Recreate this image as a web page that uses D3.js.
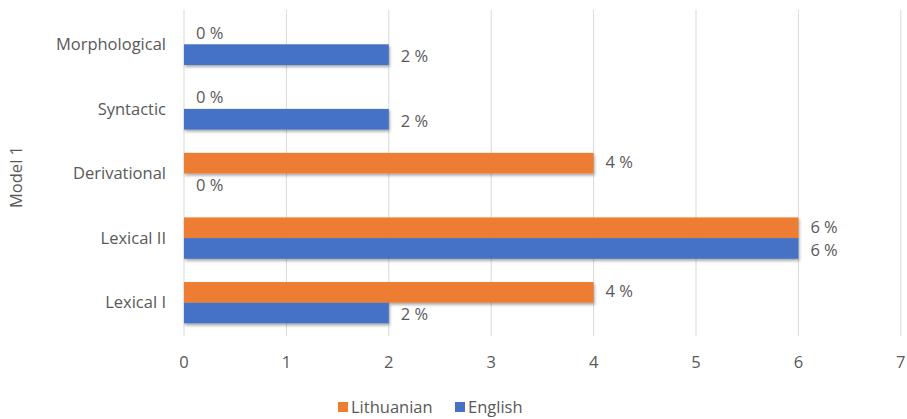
<!DOCTYPE html>
<html>
<head>
<meta charset="utf-8">
<script src="https://cdn.jsdelivr.net/npm/d3@7"></script>
<style>
  body { margin: 0; background: #fff; }
  text { font-family: "Open Sans", "Noto Sans", sans-serif; fill: #595959; }
</style>
</head>
<body>
<div id="chart"></div>
<script>
// data
const categories = ["Morphological", "Syntactic", "Derivational", "Lexical II", "Lexical I"];
const seriesNames = ["Lithuanian", "English"];
const lithuanian = [0, 0, 4, 6, 4];
const english = [2, 2, 0, 6, 2];
const xTicks = [0, 1, 2, 3, 4, 5, 6, 7];
const colors = ["#ED7D31", "#4472C4"];

const width = 907;
const height = 419;
const margin = { top: 12, right: 6, bottom: 84, left: 184 };
const fontSize = "16.5px";

const svg = d3.select("#chart")
  .append("svg")
  .attr("width", width)
  .attr("height", height);

// soft shadow under the bars
const defs = svg.append("defs");
const shadow = defs.append("filter")
  .attr("id", "shadow")
  .attr("x", "-5%").attr("y", "-30%")
  .attr("width", "110%").attr("height", "170%");
shadow.append("feDropShadow")
  .attr("dx", 1).attr("dy", 2)
  .attr("stdDeviation", 1.5)
  .attr("flood-color", "#000")
  .attr("flood-opacity", 0.35);

const x = d3.scaleLinear()
  .domain([0, 7])
  .range([margin.left, margin.left + 7 * 102.4]);

const y = d3.scaleBand()
  .domain(categories)
  .range([margin.top, height - margin.bottom])
  .paddingInner(0.36)
  .paddingOuter(0.18);

const ySub = d3.scaleBand()
  .domain(seriesNames)
  .range([0, y.bandwidth()]);

// vertical grid lines
svg.append("g")
  .selectAll("line")
  .data(xTicks)
  .join("line")
  .attr("x1", d => x(d))
  .attr("x2", d => x(d))
  .attr("y1", 10)
  .attr("y2", 336)
  .attr("stroke", "#d9d9d9")
  .attr("stroke-width", 1);

// tick labels
svg.append("g")
  .selectAll("text")
  .data(xTicks)
  .join("text")
  .attr("x", d => x(d))
  .attr("y", 368)
  .attr("text-anchor", "middle")
  .style("font-size", fontSize)
  .text(d => d);

// category labels
svg.append("g")
  .selectAll("text")
  .data(categories)
  .join("text")
  .attr("x", margin.left - 18)
  .attr("y", d => y(d) + y.bandwidth() / 2)
  .attr("dy", "0.35em")
  .attr("text-anchor", "end")
  .style("font-size", fontSize)
  .text(d => d);

// axis title
svg.append("text")
  .attr("transform", "translate(22,177) rotate(-90)")
  .attr("text-anchor", "middle")
  .style("font-size", fontSize)
  .text("Model 1");

const rows = categories.map((c, i) => ({
  category: c,
  values: [
    { series: seriesNames[0], value: lithuanian[i], color: colors[0] },
    { series: seriesNames[1], value: english[i], color: colors[1] }
  ]
}));

const groups = svg.append("g")
  .selectAll("g")
  .data(rows)
  .join("g")
  .attr("transform", d => `translate(0,${y(d.category)})`);

groups.selectAll("rect")
  .data(d => d.values.filter(v => v.value > 0))
  .join("rect")
  .attr("x", x(0))
  .attr("y", d => ySub(d.series))
  .attr("width", d => x(d.value) - x(0))
  .attr("height", ySub.bandwidth())
  .attr("fill", d => d.color)
  .attr("filter", "url(#shadow)");

// value labels, nudged apart a little so the pairs do not touch
groups.selectAll(".val")
  .data(d => d.values)
  .join("text")
  .attr("class", "val")
  .attr("x", d => x(d.value) + 12)
  .attr("y", (d, i) => ySub(d.series) + ySub.bandwidth() / 2 + (i === 0 ? -1 : 1.5))
  .attr("dy", "0.35em")
  .style("font-size", fontSize)
  .text(d => d.value + " %");

// legend
const legend = svg.append("g")
  .attr("transform", "translate(338,407)");
const items = legend.selectAll("g")
  .data(seriesNames)
  .join("g")
  .attr("transform", (d, i) => `translate(${i * 117},0)`);
items.append("rect")
  .attr("x", 0)
  .attr("y", -5)
  .attr("width", 10)
  .attr("height", 10)
  .attr("fill", (d, i) => colors[i]);
items.append("text")
  .attr("x", 13)
  .attr("y", 0)
  .attr("dy", "0.35em")
  .style("font-size", fontSize)
  .text(d => d);
</script>
</body>
</html>
